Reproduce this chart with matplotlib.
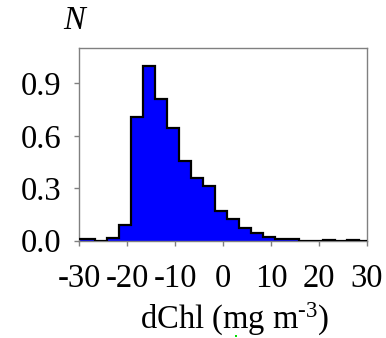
import matplotlib
matplotlib.use("Agg")
import matplotlib.pyplot as plt
from matplotlib.patches import Rectangle
import numpy as np

# Data
bin_edges = [-31.75, -29.25, -26.75, -24.25, -21.75, -19.25, -16.75, -14.25,
             -11.75, -9.25, -6.75, -4.25, -1.75, 0.75, 3.25, 5.75, 8.25,
             10.75, 13.25, 15.75, 18.25, 20.75, 23.25, 25.75, 28.25, 30.75]
frequency = [0.010, 0.010, 0.0, 0.014, 0.090, 0.710, 1.000, 0.810, 0.645,
             0.456, 0.357, 0.312, 0.170, 0.124, 0.075, 0.042, 0.022, 0.012,
             0.012, 0.0, 0.0, 0.004, 0.0, 0.004, 0.0]
x_ticks = [-30, -20, -10, 0, 10, 20, 30]
y_ticks = [0.0, 0.3, 0.6, 0.9]
y_tick_labels = ["0.0", "0.3", "0.6", "0.9"]

plt.rcParams['font.family'] = ['Liberation Serif', 'DejaVu Serif']
plt.rcParams['axes.unicode_minus'] = False
plt.rcParams['mathtext.fontset'] = 'custom'
plt.rcParams['mathtext.rm'] = 'Liberation Serif'
plt.rcParams['mathtext.it'] = 'Liberation Serif:italic'

fig = plt.figure(figsize=(3.86, 3.38), dpi=100)
ax = fig.add_axes([0.2047, 0.2879, 0.9508 - 0.2047, 0.857 - 0.2879])

ax.stairs(frequency, bin_edges, fill=True, color='#0000ff', zorder=2)
ax.stairs(frequency, bin_edges, color='black', linewidth=1.6, zorder=3)

ax.set_xlim(-30, 30)
ax.set_ylim(0, 1.1)
ax.set_xticks(x_ticks)
ax.set_xticklabels([str(t) for t in x_ticks])
ax.set_yticks(y_ticks)
ax.set_yticklabels(y_tick_labels)

for s in ax.spines.values():
    s.set_color('#808080')
    s.set_linewidth(1.0)
ax.tick_params(axis='both', direction='out', length=3.5, width=1.0,
               color='#808080', labelsize=23.5, labelcolor='black')
ax.tick_params(axis='x', pad=13)
ax.tick_params(axis='y', pad=9)

fig.text(235 / 386, 1 - 319 / 338, 'dChl (mg m$^{\\text{-3}}$)', fontsize=23.5,
         ha='center', va='center')
fig.text(74 / 386, 1 - 21 / 338, 'N', fontsize=23.5, style='italic',
         ha='center', va='center')

# small green mark present in the reference image below the label
fig.patches.append(Rectangle((234.5 / 386, 1 - 337 / 338), 2.5 / 386, 2.5 / 338,
                             transform=fig.transFigure, facecolor='#00e000',
                             edgecolor='none'))

fig.savefig('out.png', dpi=100)
